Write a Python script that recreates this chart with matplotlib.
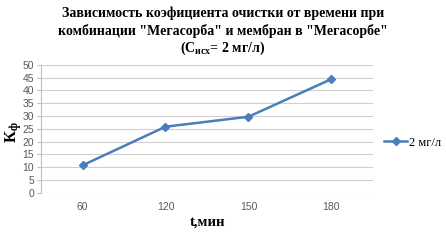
import matplotlib
matplotlib.use("Agg")
import matplotlib.pyplot as plt

categories = ["60", "120", "150", "180"]
values = [10.7, 25.8, 29.7, 44.4]
series_label = "2 мг/л"
yticks = list(range(0, 55, 5))

plt.rcParams['font.family'] = ['Liberation Serif', 'DejaVu Serif']
plt.rcParams['mathtext.fontset'] = 'custom'
plt.rcParams['mathtext.rm'] = 'Liberation Serif:bold'
plt.rcParams['mathtext.it'] = 'Liberation Serif:bold'
plt.rcParams['mathtext.bf'] = 'Liberation Serif:bold'

fig = plt.figure(figsize=(4.46, 2.40), dpi=100)
ax = fig.add_axes([0.092, 0.197, 0.744, 0.533])

x = list(range(len(categories)))
line, = ax.plot(x, values, color='#4A7EBB', lw=1.8, marker='D', ms=4.5,
                markerfacecolor='#4A7EBB', markeredgecolor='#4A7EBB', label=series_label)

ax.set_xlim(-0.5, len(categories) - 0.5)
ax.set_ylim(0, 50)
ax.set_yticks(yticks)
ax.set_xticks(x)
ax.set_xticklabels(categories)
ax.yaxis.grid(True, color='#D0D0D0', lw=0.8)
ax.set_axisbelow(True)
for s in ['top', 'right', 'bottom']:
    ax.spines[s].set_visible(False)
ax.spines['left'].set_color('#BFBFBF')
ax.tick_params(axis='y', length=3, color='#BFBFBF', labelsize=7.5, labelcolor='#595959', pad=2)
ax.tick_params(axis='x', length=0, labelsize=7.5, labelcolor='#595959', pad=7)
for lab in ax.get_xticklabels() + ax.get_yticklabels():
    lab.set_fontfamily(['Liberation Sans', 'DejaVu Sans'])

fs_title = 10
fig.text(0.5, 0.944, "Зависимость коэфициента очистки от времени при",
         ha='center', va='center', fontsize=fs_title, fontweight='bold')
fig.text(0.5, 0.869, "комбинации \"Мегасорба\" и мембран в \"Мегасорбе\"",
         ha='center', va='center', fontsize=fs_title, fontweight='bold')
fig.text(0.5, 0.797, "(С$_{\\mathregular{исх}}$= 2 мг/л)",
         ha='center', va='center', fontsize=fs_title, fontweight='bold')

fig.text(0.465, 0.075, "t,мин", ha='center', va='center', fontsize=10.5, fontweight='bold')
fig.text(0.03, 0.45, "К$_{\\mathregular{ф}}$", ha='center', va='center', fontsize=12,
         fontweight='bold', rotation=90)

leg = fig.legend(handles=[line], loc='center left', bbox_to_anchor=(0.862, 0.405),
                 frameon=False, fontsize=9, handlelength=1.8, handletextpad=0.2,
                 borderpad=0, borderaxespad=0)

fig.savefig("out.png", dpi=100)
